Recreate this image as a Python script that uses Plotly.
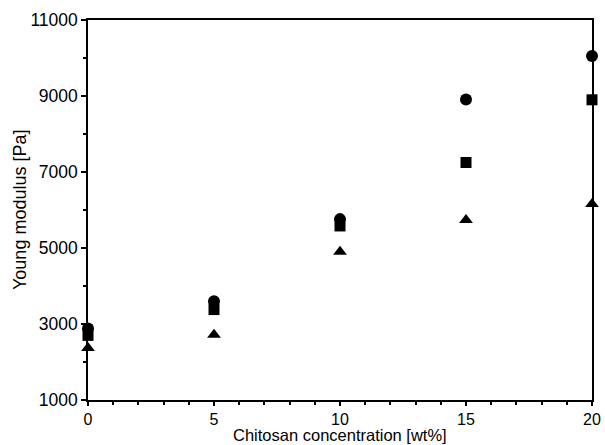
import plotly.graph_objects as go

concentration = [0, 5, 10, 15, 20]
series_circle = [2880, 3600, 5760, 8910, 10050]
series_square = [2700, 3380, 5580, 7250, 8900]
series_triangle = [2370, 2720, 4900, 5740, 6160]

y_ticks = [1000, 3000, 5000, 7000, 9000, 11000]
y_tick_labels = ["1000", "3000", "5000", "7000", "9000", "11000"]
x_ticks = [0, 5, 10, 15, 20]
x_tick_labels = ["0", "5", "10", "15", "20"]
x_title = "Chitosan concentration [wt%]"
y_title = "Young modulus [Pa]"

fig = go.Figure()
for ys, sym, sz in [(series_circle, "circle", 12), (series_square, "square", 11),
                    (series_triangle, "triangle-up", 12)]:
    fig.add_trace(go.Scatter(x=concentration, y=ys, mode="markers", cliponaxis=False,
                             marker=dict(symbol=sym, size=sz, color="black", line=dict(width=0))))

font = dict(family="Liberation Sans, Arial, sans-serif", color="black")
fig.update_layout(
    width=605, height=445, showlegend=False,
    paper_bgcolor="white", plot_bgcolor="white",
    margin=dict(l=88, r=13, t=20, b=45, autoexpand=False),
    font=dict(size=17, **font),
    annotations=[
        dict(text=x_title, xref="paper", yref="paper", x=0.5, y=0, yshift=-45,
             xanchor="center", yanchor="bottom", showarrow=False, font=dict(size=16.5),
             borderpad=0),
        dict(text=y_title, xref="paper", yref="paper", x=0, y=0.5, xshift=-68,
             xanchor="center", yanchor="middle", textangle=-90, showarrow=False,
             font=dict(size=18)),
    ],
)
fig.update_xaxes(range=[0, 20], tickvals=x_ticks, ticktext=x_tick_labels, ticks="outside",
                 ticklen=4, tickwidth=1.5, tickcolor="black", showline=True, linecolor="black",
                 linewidth=1.5, mirror=True, showgrid=False, zeroline=False,
                 minor=dict(dtick=1, ticks="outside", ticklen=3, tickwidth=1.5, tickcolor="black"),
                 tickfont=dict(size=16))
fig.update_yaxes(range=[1000, 11000], tickvals=y_ticks, ticktext=y_tick_labels, ticks="outside",
                 ticklen=5, tickwidth=1.5, tickcolor="black", showline=True, linecolor="black",
                 linewidth=1.5, mirror=True, showgrid=False, zeroline=False,
                 minor=dict(dtick=1000, ticks="outside", ticklen=3, tickwidth=1.5, tickcolor="black"),
                 tickfont=dict(size=17.5))
fig.write_html("out.html")
